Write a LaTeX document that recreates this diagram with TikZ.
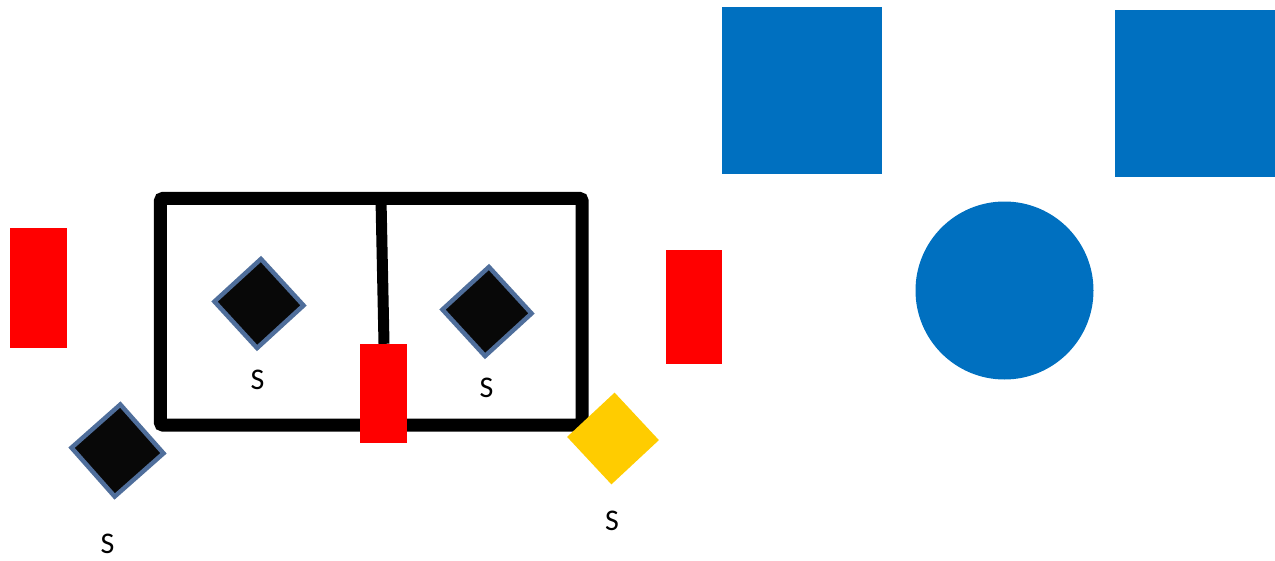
\documentclass[tikz,border=0pt]{standalone}
\usepackage{fontspec}
\setmainfont{Carlito}
\usetikzlibrary{shapes.geometric}
\definecolor{msblue}{RGB}{0,112,192}
\definecolor{dedge}{RGB}{79,110,155}
\definecolor{dfill}{RGB}{8,8,8}
\definecolor{gold}{RGB}{255,204,0}
\tikzset{
  redbox/.style={fill=red, draw=none, inner sep=0pt, rectangle},
  bluesq/.style={fill=msblue, draw=none, inner sep=0pt, rectangle},
  sensor/.style={diamond, aspect=1, fill=dfill, draw=dedge, line width=4.5pt, inner sep=0pt, minimum width=91pt, minimum height=91pt},
  goldd/.style={diamond, aspect=1, fill=gold, draw=none, inner sep=0pt, minimum width=92pt, minimum height=92pt},
  lbl/.style={font=\fontsize{30}{30}\selectfont, inner sep=0pt, anchor=center},
  wall/.style={line width=13pt, draw=black, rounded corners=3pt},
}
\begin{document}
\begin{tikzpicture}[x=1pt,y=-1pt]
\useasboundingbox (0,0) rectangle (1275,560);
% room
\node[draw=none, inner sep=0pt, minimum width=421.5pt, minimum height=226.5pt] (room) at (371.25,311.75) {};
\draw[wall] (room.north west) rectangle (room.south east);
\coordinate (divtop) at (381,199);
\node[redbox, minimum width=47pt, minimum height=99pt] (rmid) at (383.5,393.5) {};
\draw[line width=11pt] (divtop) -- (rmid.north -| 384,0);
\node[redbox, minimum width=47pt, minimum height=99pt] (rmid2) at (383.5,393.5) {};
% red boxes
\node[redbox, minimum width=57pt, minimum height=120pt] (rleft) at (38.5,288) {};
\node[redbox, minimum width=56pt, minimum height=114pt] (rright) at (694,307) {};
% blue shapes
\node[bluesq, minimum width=160pt, minimum height=167pt] (bsq1) at (802,90.5) {};
\node[bluesq, minimum width=160pt, minimum height=167pt] (bsq2) at (1195,93.5) {};
\node[circle, fill=msblue, draw=none, inner sep=0pt, minimum width=178pt, minimum height=178pt] (bcirc) at (1004.5,290.5) {};
% diamonds
\node[sensor, rotate=-2.5] (d1) at (259,303.5) {};
\node[sensor, rotate=-2.5] (d2) at (487,311.5) {};
\node[sensor, rotate=-3.5, minimum width=94pt, minimum height=94pt] (d3) at (117.5,450.5) {};
\node[goldd, rotate=-2] (dg) at (613,438.5) {};
% labels
\node[lbl] (s1) at (257.5,379.5) {S};
\node[lbl] (s2) at (486.5,388) {S};
\node[lbl] (s3) at (107.5,544) {S};
\node[lbl] (s4) at (612,521) {S};
\end{tikzpicture}
\end{document}
